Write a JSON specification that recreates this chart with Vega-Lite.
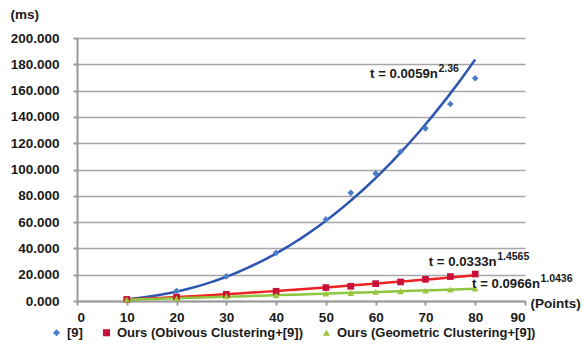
{
  "$schema": "https://vega.github.io/schema/vega-lite/v6.json",
  "width": 448,
  "height": 263,
  "autosize": {"type": "none"},
  "padding": {"left": 77, "top": 38, "right": 57, "bottom": 44},
  "background": "white",
  "config": {
    "view": {"stroke": null},
    "font": "Liberation Sans",
    "axisX": {
      "values": [0, 10, 20, 30, 40, 50, 60, 70, 80, 90],
      "tickCount": 9,
      "grid": false,
      "labelOverlap": false,
      "domainColor": "#999999", "domainWidth": 2,
      "tickColor": "#999999", "tickWidth": 2, "tickSize": 4,
      "labelFont": "Liberation Sans", "labelFontWeight": "bold", "labelFontSize": 13.5, "labelColor": "#1a1a1a",
      "labelPadding": 5,
      "titleFont": "Liberation Sans", "titleFontWeight": "bold", "titleFontSize": 13.5, "titleColor": "#1a1a1a",
      "titleX": 453, "titleY": 2, "titleAlign": "left", "titleBaseline": "middle"
    },
    "axisY": {
      "values": [0, 20, 40, 60, 80, 100, 120, 140, 160, 180, 200],
      "tickCount": 10,
      "format": ".3f",
      "labelOverlap": false,
      "grid": true, "gridColor": "#A6A6A6", "gridWidth": 1.5,
      "domainColor": "#999999", "domainWidth": 2,
      "tickColor": "#999999", "tickWidth": 2, "tickSize": 4,
      "labelFont": "Liberation Sans", "labelFontWeight": "bold", "labelFontSize": 13.5, "labelColor": "#1a1a1a",
      "labelPadding": 14,
      "titleAngle": 0,
      "titleFont": "Liberation Sans", "titleFontWeight": "bold", "titleFontSize": 13.5, "titleColor": "#1a1a1a",
      "titleX": -67, "titleY": -24, "titleAlign": "left", "titleBaseline": "middle"
    }
  },
  "data": {
    "values": [
      {"n": 10, "t": 1.3, "series": "[9]"},
      {"n": 20, "t": 7.6, "series": "[9]"},
      {"n": 30, "t": 18.8, "series": "[9]"},
      {"n": 40, "t": 36.6, "series": "[9]"},
      {"n": 50, "t": 62.0, "series": "[9]"},
      {"n": 55, "t": 82.3, "series": "[9]"},
      {"n": 60, "t": 97.0, "series": "[9]"},
      {"n": 65, "t": 113.5, "series": "[9]"},
      {"n": 70, "t": 131.3, "series": "[9]"},
      {"n": 75, "t": 149.8, "series": "[9]"},
      {"n": 80, "t": 169.4, "series": "[9]"},
      {"n": 10, "t": 1.2, "series": "Ours (Obivous Clustering+[9])"},
      {"n": 20, "t": 3.0, "series": "Ours (Obivous Clustering+[9])"},
      {"n": 30, "t": 5.1, "series": "Ours (Obivous Clustering+[9])"},
      {"n": 40, "t": 7.4, "series": "Ours (Obivous Clustering+[9])"},
      {"n": 50, "t": 10.2, "series": "Ours (Obivous Clustering+[9])"},
      {"n": 55, "t": 11.2, "series": "Ours (Obivous Clustering+[9])"},
      {"n": 60, "t": 13.2, "series": "Ours (Obivous Clustering+[9])"},
      {"n": 65, "t": 14.5, "series": "Ours (Obivous Clustering+[9])"},
      {"n": 70, "t": 16.5, "series": "Ours (Obivous Clustering+[9])"},
      {"n": 75, "t": 18.6, "series": "Ours (Obivous Clustering+[9])"},
      {"n": 80, "t": 20.5, "series": "Ours (Obivous Clustering+[9])"},
      {"n": 10, "t": 1.0, "series": "Ours (Geometric Clustering+[9])"},
      {"n": 20, "t": 1.9, "series": "Ours (Geometric Clustering+[9])"},
      {"n": 30, "t": 3.6, "series": "Ours (Geometric Clustering+[9])"},
      {"n": 40, "t": 4.3, "series": "Ours (Geometric Clustering+[9])"},
      {"n": 50, "t": 5.6, "series": "Ours (Geometric Clustering+[9])"},
      {"n": 55, "t": 6.1, "series": "Ours (Geometric Clustering+[9])"},
      {"n": 60, "t": 6.9, "series": "Ours (Geometric Clustering+[9])"},
      {"n": 65, "t": 7.4, "series": "Ours (Geometric Clustering+[9])"},
      {"n": 70, "t": 7.9, "series": "Ours (Geometric Clustering+[9])"},
      {"n": 75, "t": 8.7, "series": "Ours (Geometric Clustering+[9])"},
      {"n": 80, "t": 9.4, "series": "Ours (Geometric Clustering+[9])"}
    ]
  },
  "layer": [
    {
      "transform": [
        {"filter": "datum.series === '[9]'"},
        {"regression": "t", "on": "n", "method": "pow", "extent": [10, 80]}
      ],
      "mark": {"type": "line", "color": "#2E55B0", "strokeWidth": 2.5},
      "encoding": {
        "x": {"field": "n", "type": "quantitative", "scale": {"domain": [0, 90], "nice": false}, "axis": {"title": "(Points)"}},
        "y": {"field": "t", "type": "quantitative", "scale": {"domain": [0, 200], "nice": false}, "axis": {"title": "(ms)"}}
      }
    },
    {
      "transform": [
        {"filter": "datum.series === 'Ours (Obivous Clustering+[9])'"},
        {"regression": "t", "on": "n", "method": "pow", "extent": [10, 80]}
      ],
      "mark": {"type": "line", "color": "#EE2222", "strokeWidth": 2.5},
      "encoding": {
        "x": {"field": "n", "type": "quantitative"},
        "y": {"field": "t", "type": "quantitative"}
      }
    },
    {
      "transform": [
        {"filter": "datum.series === 'Ours (Geometric Clustering+[9])'"},
        {"regression": "t", "on": "n", "method": "pow", "extent": [10, 80]}
      ],
      "mark": {"type": "line", "color": "#8DC63F", "strokeWidth": 2.5},
      "encoding": {
        "x": {"field": "n", "type": "quantitative"},
        "y": {"field": "t", "type": "quantitative"}
      }
    },
    {
      "mark": {"type": "point", "filled": true, "opacity": 1, "size": 45},
      "encoding": {
        "x": {"field": "n", "type": "quantitative", "axis": {"title": "(Points)"}},
        "y": {"field": "t", "type": "quantitative", "axis": {"title": "(ms)"}},
        "color": {
          "field": "series", "type": "nominal",
          "scale": {
            "domain": ["[9]", "Ours (Obivous Clustering+[9])", "Ours (Geometric Clustering+[9])"],
            "range": ["#4A7EC8", "#C8103C", "#9BC53D"]
          },
          "legend": {
            "orient": "none", "legendX": -27, "legendY": 288,
            "direction": "horizontal", "title": null,
            "labelFont": "Liberation Sans", "labelFontWeight": "bold", "labelFontSize": 13, "labelColor": "#1a1a1a",
            "labelLimit": 400,
            "symbolSize": 50, "symbolStrokeWidth": 0, "columnPadding": 17, "labelOffset": 4
          }
        },
        "shape": {
          "field": "series", "type": "nominal",
          "scale": {
            "domain": ["[9]", "Ours (Obivous Clustering+[9])", "Ours (Geometric Clustering+[9])"],
            "range": ["diamond", "square", "triangle-up"]
          },
          "legend": null
        }
      }
    },
    {
      "data": {"values": [{"label": "t = 0.0059n", "sup": "2.36", "px": 72.5, "py": 172.4}, {"label": "t = 0.0333n", "sup": "1.4565", "px": 84.3, "py": 29.7}, {"label": "t = 0.0966n", "sup": "1.0436", "px": 93.0, "py": 13.3}]},
      "layer": [
        {
          "mark": {"type": "text", "align": "right", "baseline": "middle", "fontSize": 13.2, "fontWeight": "bold", "font": "Liberation Sans", "fill": "#1a1a1a"},
          "encoding": {
            "x": {"field": "px", "type": "quantitative"},
            "y": {"field": "py", "type": "quantitative"},
            "text": {"field": "label"}
          }
        },
        {
          "mark": {"type": "text", "align": "left", "baseline": "middle", "fontSize": 10.5, "fontWeight": "bold", "font": "Liberation Sans", "fill": "#1a1a1a", "dx": 0.5, "dy": -5},
          "encoding": {
            "x": {"field": "px", "type": "quantitative"},
            "y": {"field": "py", "type": "quantitative"},
            "text": {"field": "sup"}
          }
        }
      ]
    }
  ]
}
